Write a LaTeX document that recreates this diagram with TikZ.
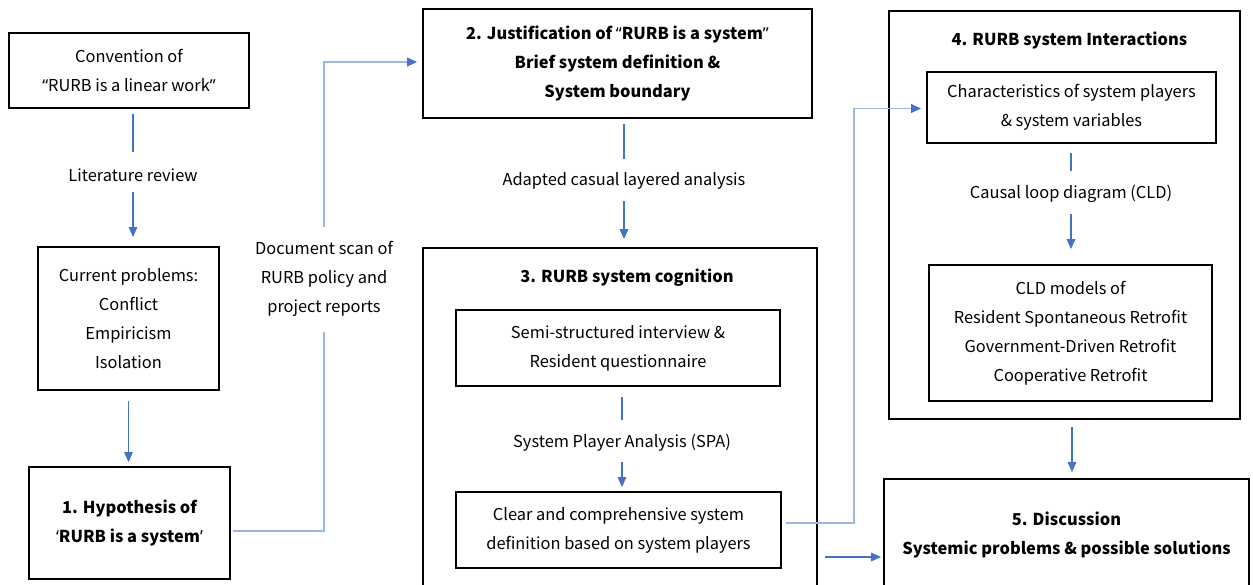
\documentclass[tikz,border=0pt]{standalone}
\usepackage{fontspec}
\setmainfont{Noto Sans CJK SC}
\newfontfamily\quotefont{Noto Sans}
\usetikzlibrary{arrows.meta,calc}
\definecolor{linkblue}{HTML}{4472C4}
\definecolor{paleblue}{HTML}{9DB7E5}
\newcommand\figfont{\fontsize{12.3}{21.75}\selectfont}
\newcommand\qopen{{\quotefont ‘}}
\newcommand\qclose{{\quotefont ’}}
\newcommand\dqopen{{\quotefont “}}
\newcommand\dqclose{{\quotefont ”}}

\begin{document}
\begin{tikzpicture}[x=0.75pt,y=-0.75pt,
  box/.style={draw=black, line width=1.4pt, rectangle, align=center, inner sep=0pt, font=\figfont},
  lbl/.style={align=center, inner sep=0pt, font=\figfont},
  ttl/.style={align=center, inner sep=0pt, font=\figfont\bfseries},
  plain/.style={draw=linkblue, line width=0.8pt},
  arr/.style={draw=linkblue, line width=0.8pt, -{Triangle[length=7.5pt,width=6.5pt]}},
  pale/.style={draw=paleblue, line width=1.2pt},
  palearr/.style={draw=paleblue, line width=1.2pt, -{Triangle[length=7.5pt,width=6.5pt,color=linkblue]}}
]
\useasboundingbox (0,0) rectangle (1253,585);
\clip (0,0) rectangle (1253,585);

% left column
\node[box, minimum width=180pt, minimum height=56.25pt] (convA) at (129,70.5)
  {Convention of\\\dqopen RURB is a linear work\dqclose};
\node[lbl] (lit) at (133,175) {Literature review};
\node[box, minimum width=135.75pt, minimum height=107.25pt] (probs) at (128.5,318.5)
  {Current problems:\\Conflict\\Empiricism\\Isolation};
\node[box, minimum width=150.75pt, minimum height=84pt, font=\figfont\bfseries] (hyp) at (129.5,523)
  {1. Hypothesis of\\\qopen RURB is a system\qclose};
\node[lbl] (doc) at (324,279) {Document scan of\\RURB policy and\\project reports};

% middle column
\node[box, minimum width=291.75pt, minimum height=81.75pt, font=\figfont\bfseries] (just) at (617.5,63.5)
  {2. Justification of \dqopen RURB is a system\dqclose\\Brief system definition \&\\System boundary};
\node[lbl] (acla) at (624,181) {Adapted casual layered analysis};
\node[box, minimum width=295.5pt, minimum height=294pt] (cog) at (620,444) {};
\node[ttl] (cogT) at (627,278) {3. RURB system cognition};
\node[box, minimum width=243pt, minimum height=57pt] (ssi) at (618,348)
  {Semi-structured interview \&\\Resident questionnaire};
\node[lbl] (spa) at (622,443) {System Player Analysis (SPA)};
\node[box, minimum width=243.75pt, minimum height=57pt] (clear) at (618.5,530)
  {Clear and comprehensive system\\definition based on system players};

% right column
\node[box, minimum width=263.25pt, minimum height=306pt] (inter) at (1064.5,215) {};
\node[ttl] (interT) at (1069.5,40) {4. RURB system Interactions};
\node[box, minimum width=216.75pt, minimum height=53.25pt] (chars) at (1071.5,107.5)
  {Characteristics of system players\\\& system variables};
\node[lbl] (cld) at (1071,194) {Causal loop diagram (CLD)};
\node[box, minimum width=212.25pt, minimum height=102pt] (cldm) at (1070.5,333)
  {CLD models of\\Resident Spontaneous Retrofit\\Government-Driven Retrofit\\Cooperative Retrofit};
\node[box, minimum width=273.75pt, minimum height=83.25pt, font=\figfont\bfseries] (disc) at (1066.5,534.5)
  {5. Discussion\\Systemic problems \& possible solutions};

% convention -> problems -> hypothesis
\draw[plain] ($(convA.south -| lit)+(0,5)$) -- ($(lit)+(0,-23)$);
\draw[arr] ($(lit)+(0,17)$) -- ($(probs.north -| lit)+(0,-9)$);
\draw[arr] ($(probs.south)+(0,10)$) -- ($(hyp.north -| probs.south)+(0,-4)$);

% hypothesis -> justification
\draw[pale] ($(hyp.east)+(2,8)$) -| ($(doc)+(0,53)$);
\draw[palearr] ($(doc)+(0,-52)$) |- ($(just.west)+(-5,-1.5)$);

% justification -> cognition
\draw[plain] ($(just.south -| acla)+(0,5)$) -- ($(acla)+(0,-22)$);
\draw[arr] ($(acla)+(0,20)$) -- ($(cog.north -| acla)+(0,-8)$);

% interview -> definition
\draw[plain] ($(ssi.south -| spa)+(0,10)$) -- ($(spa)+(0,-23)$);
\draw[arr] ($(spa)+(0,19)$) -- ($(clear.north -| spa)+(0,-4)$);

% definition -> characteristics
\coordinate (bend) at (854,300);
\draw[palearr] ($(clear.east)+(4,-7)$) -| (bend) |- ($(chars.west)+(-5,1)$);

% characteristics -> CLD models
\draw[plain] ($(chars.south -| cld)+(0,9)$) -- ($(cld)+(0,-23)$);
\draw[arr] ($(cld)+(0,20)$) -- ($(cldm.north -| cld)+(0,-15)$);

% cognition and interactions -> discussion
\draw[arr] ($(cog.east |- disc.west)+(7,22.5)$) -- ($(disc.west)+(-2,22.5)$);
\draw[arr] ($(inter.south -| cld)+(1,7)$) -- ($(disc.north -| cld)+(1,-6)$);
\end{tikzpicture}
\end{document}
